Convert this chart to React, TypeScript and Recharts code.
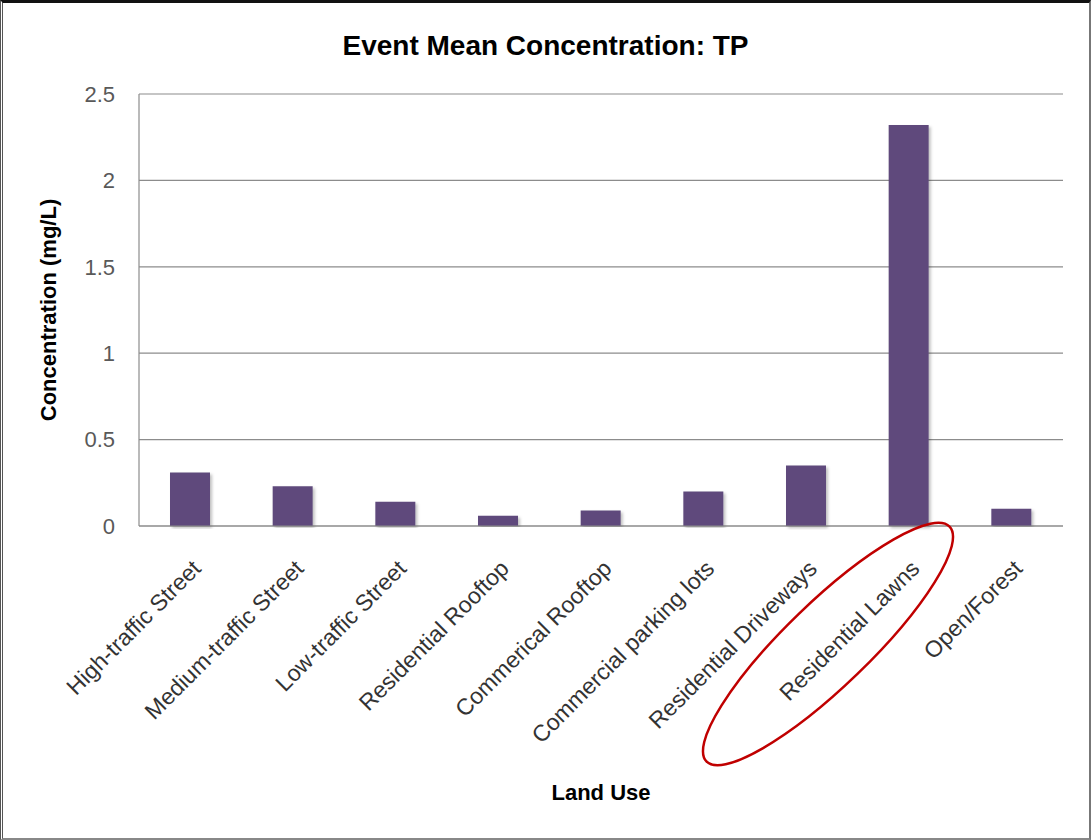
import React from 'react';
import { BarChart, Bar, XAxis, YAxis, CartesianGrid, Label } from 'recharts';

const landUses = [
  'High-traffic Street',
  'Medium-traffic Street',
  'Low-traffic Street',
  'Residential Rooftop',
  'Commerical Rooftop',
  'Commercial parking lots',
  'Residential Driveways',
  'Residential Lawns',
  'Open/Forest',
];
const tpValues = [0.31, 0.23, 0.14, 0.06, 0.09, 0.2, 0.35, 2.32, 0.1];
const yTicks = [0, 0.5, 1, 1.5, 2, 2.5];
const highlighted = 'Residential Lawns';

const data = landUses.map((name, i) => ({ name, tp: tpValues[i] }));

const FONT = '"Liberation Sans", Arial, sans-serif';

// rotated category label; the circled one gets a red ellipse around it
const LandUseTick = (props: any) => {
  const { x, y, payload } = props;
  const tx = x + 12;
  const ty = y + 44;
  return (
    <g>
      <text
        x={tx}
        y={ty}
        transform={`rotate(-45, ${tx}, ${ty})`}
        textAnchor="end"
        fontSize={23}
        fontFamily={FONT}
        fill="#333"
      >
        {payload.value}
      </text>
      {payload.value === highlighted && (
        <ellipse
          cx={x - 81}
          cy={y + 118}
          rx={169}
          ry={42}
          transform={`rotate(-44, ${x - 81}, ${y + 118})`}
          fill="none"
          stroke="#c00000"
          strokeWidth={2.5}
        />
      )}
    </g>
  );
};

const App: React.FC = () => {
  return (
    <div
      style={{
        position: 'relative',
        width: 1091,
        height: 840,
        boxSizing: 'border-box',
        borderTop: '3px solid #111',
        borderLeft: '3px double #555',
        borderRight: '2px solid #777',
        borderBottom: '2px solid #888',
        background: '#fff',
        overflow: 'hidden',
      }}
    >
      <style>{`body{margin:0}`}</style>
      <div
        style={{
          position: 'absolute',
          left: 0,
          top: 0,
          width: 1091,
          marginLeft: -3,
          textAlign: 'center',
          fontFamily: FONT,
          fontWeight: 'bold',
          fontSize: 28,
          lineHeight: '28px',
          paddingTop: 29,
          color: '#000',
        }}
      >
        Event Mean Concentration: TP
      </div>
      <div style={{ position: 'absolute', left: -3, top: -3 }}>
        <BarChart
          width={1091}
          height={840}
          data={data}
          margin={{ top: 94, right: 28, left: 0, bottom: 0 }}
        >
          <defs>
            <filter id="barShadow" x="-20%" y="-5%" width="140%" height="110%">
              <feDropShadow dx="2" dy="2" stdDeviation="1.5" floodColor="#000" floodOpacity="0.25" />
            </filter>
          </defs>
          <CartesianGrid vertical={false} stroke="#8c8c8c" strokeWidth={1.2} />
          <XAxis
            dataKey="name"
            height={314}
            interval={0}
            tickLine={false}
            tickSize={0}
            tickMargin={0}
            axisLine={{ stroke: '#8c8c8c', strokeWidth: 1.2 }}
            tick={<LandUseTick />}
          >
            <Label
              content={({ viewBox }: any) => (
                <text
                  x={viewBox.x + viewBox.width / 2}
                  y={800}
                  textAnchor="middle"
                  fontFamily={FONT}
                  fontWeight="bold"
                  fontSize={22}
                  fill="#000"
                >
                  Land Use
                </text>
              )}
            />
          </XAxis>
          <YAxis
            width={139}
            domain={[0, 2.5]}
            ticks={yTicks}
            tickLine={false}
            tickMargin={18}
            axisLine={{ stroke: '#8c8c8c', strokeWidth: 1.2 }}
            tick={{ fontSize: 22, fontFamily: FONT, fill: '#595959' }}
          >
            <Label
              content={({ viewBox }: any) => {
                const cy = viewBox.y + viewBox.height / 2;
                return (
                  <text
                    x={56}
                    y={cy}
                    transform={`rotate(-90, 56, ${cy})`}
                    textAnchor="middle"
                    fontFamily={FONT}
                    fontWeight="bold"
                    fontSize={22}
                    fill="#000"
                  >
                    Concentration (mg/L)
                  </text>
                );
              }}
            />
          </YAxis>
          <Bar
            dataKey="tp"
            fill="#5f4a7b"
            barSize={40}
            filter="url(#barShadow)"
            isAnimationActive={false}
          />
        </BarChart>
      </div>
    </div>
  );
};

export default App;
